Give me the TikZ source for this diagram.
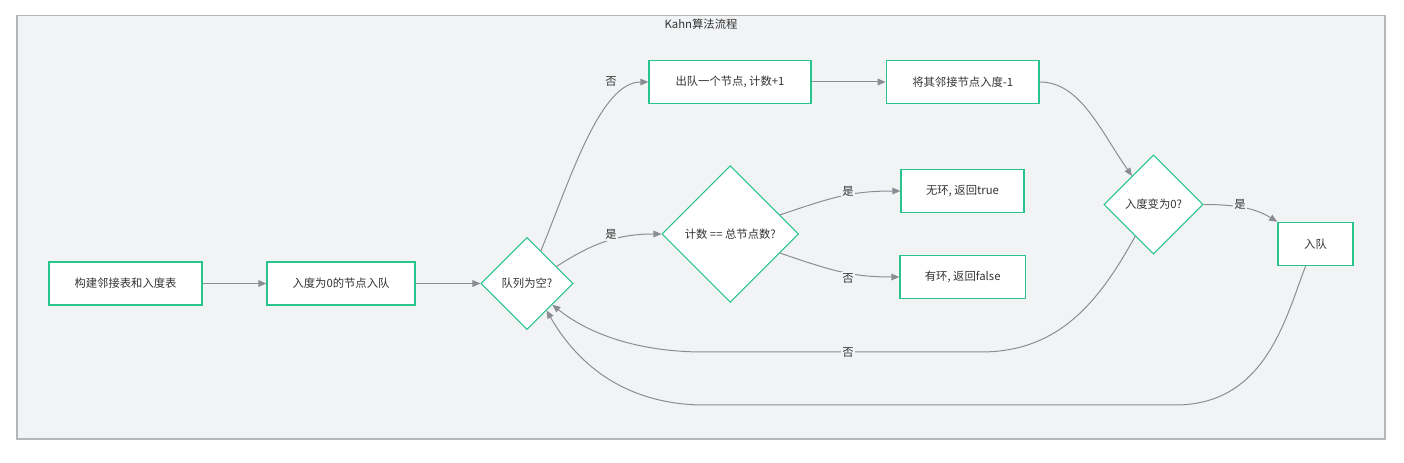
\documentclass[tikz,border=0pt]{standalone}
\usepackage{fontspec}
\setmainfont{Noto Sans CJK SC}
\usetikzlibrary{shapes.geometric,arrows.meta}
\definecolor{bgc}{RGB}{242,243,245}
\definecolor{framec}{RGB}{180,182,186}
\definecolor{nodec}{RGB}{40,196,140}
\definecolor{edgec}{RGB}{138,141,148}
\definecolor{txtc}{RGB}{51,51,51}
\begin{document}
\begin{tikzpicture}[x=0.75pt,y=-0.75pt,
 font=\fontsize{8.5pt}{10pt}\selectfont, text=txtc,
 box/.style={draw=nodec,line width=1.1pt,fill=white,minimum height=32.25pt,inner sep=0pt},
 dia/.style={diamond,aspect=1,draw=nodec,line width=0.8pt,fill=white,inner sep=0pt},
 conn/.style={draw=edgec,line width=0.75pt,-{Triangle[length=6pt,width=5pt]}},
 lbl/.style={fill=bgc,inner sep=1pt}]
\useasboundingbox (0,0) rectangle (1404,463);
\fill[white] (0,0) rectangle (1404,463);
\draw[framec,fill=bgc,line width=1pt] (17,15.5) rectangle (1385,439);
\node (T) at (701,24) {Kahn算法流程};

\node[box,minimum width=114.75pt] (A) at (125.5,283.5) {构建邻接表和入度表};
\node[box,minimum width=111pt] (B) at (341,283.5) {入度为0的节点入队};
\node[dia,minimum width=69pt,minimum height=69pt] (C) at (527,283.5) {队列为空?};
\node[box,minimum width=121.3pt] (D) at (730,82) {出队一个节点, 计数+1};
\node[box,minimum width=114.5pt] (E) at (962.7,82) {将其邻接节点入度-1};
\node[dia,minimum width=102.5pt,minimum height=102.5pt] (K) at (730.3,234) {计数 == 总节点数?};
\node[box,minimum width=92pt] (F) at (962.5,191) {无环, 返回true};
\node[box,minimum width=94pt] (G) at (962.7,277) {有环, 返回false};
\node[dia,minimum width=74.25pt,minimum height=74.25pt] (J) at (1153.5,204.5) {入度变为0?};
\node[box,minimum width=56.25pt] (H) at (1315.5,244) {入队};

\draw[conn] (A.east) -- (B.west);
\draw[conn] (B.east) -- (C.west);
\draw[conn] (C.67) .. controls (570,180) and (600,82) .. (D.west);
\draw[conn] (C.30) .. controls (590,245) and (615,234) .. (K.west);
\draw[conn] (D.east) -- (E.west);
\draw[conn] (E.east) .. controls (1080,82) and (1100,130) .. (J.127);
\draw[conn] (K.21) .. controls (830,198) and (850,191) .. (F.west);
\draw[conn] (K.-21) .. controls (830,270) and (850,277) .. (G.west);
\draw[conn] (J.east) .. controls (1235,204.5) and (1255,208) .. (H.north west);
\draw[conn] (J.240) .. controls (1100,300) and (1060,352) .. (981,352) -- (704,352) .. controls (640,352) and (590,335) .. (C.-40);
\draw[conn] ([xshift=-7.5pt]H.south) .. controls (1285,320) and (1265,405) .. (1175,405) -- (700,405) .. controls (620,403) and (575,360) .. (C.-54);

\node[lbl] (l1) at (611,82) {否};
\node[lbl] (l2) at (611,234.3) {是};
\node[lbl] (l3) at (848,191.7) {是};
\node[lbl] (l4) at (848,278.3) {否};
\node[lbl] (l5) at (1240,204.3) {是};
\node[lbl] (l6) at (848,352.3) {否};
\end{tikzpicture}
\end{document}
